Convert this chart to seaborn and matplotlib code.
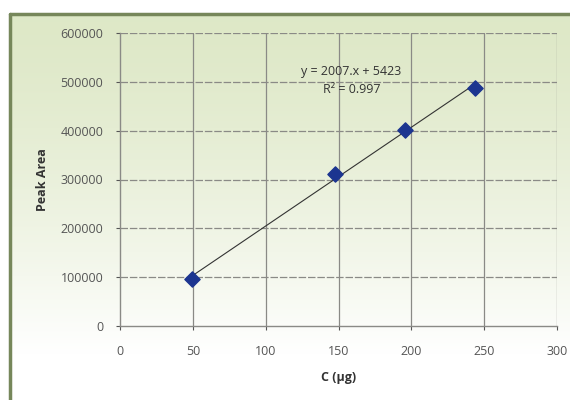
import numpy as np
import pandas as pd
import matplotlib.pyplot as plt
import seaborn as sns
from matplotlib.lines import Line2D

# data
conc = [49.4, 147.5, 195.5, 244.0]
peak_area = [96000, 312000, 401000, 488000]
x_ticks = [0, 50, 100, 150, 200, 250, 300]
y_ticks = [0, 100000, 200000, 300000, 400000, 500000, 600000]
eq_text = "y = 2007.x + 5423"
r2_text = "R² = 0.997"

df = pd.DataFrame({"conc": conc, "area": peak_area})

sns.set_theme(style="white")
plt.rcParams['font.family'] = ['Open Sans', 'DejaVu Sans']

fig = plt.figure(figsize=(5.7, 4.0), dpi=100)

# green gradient background inside the frame
bg = fig.add_axes([0, 0, 1, 1], zorder=-10)
grad = np.linspace(0, 1, 256)
top_col = np.array([0.87, 0.91, 0.78])
t = np.clip(grad / 0.88, 0, 1) ** 1.4
img = top_col * (1 - t)[:, None] + np.ones(3) * t[:, None]
bg.imshow(img.reshape(256, 1, 3), aspect='auto',
          extent=[9.5 / 570, 1, 0, 1 - 14 / 400], origin='upper')
bg.set_xlim(0, 1)
bg.set_ylim(0, 1)
bg.axis('off')
frame_col = '#76875a'
bg.add_line(Line2D([10 / 570, 10 / 570], [0, 1 - 14 / 400], color=frame_col, lw=2.5))
bg.add_line(Line2D([10 / 570, 1], [1 - 14 / 400, 1 - 14 / 400], color=frame_col, lw=2.5))

ax = fig.add_axes([120 / 570, 1 - 326 / 400, 437 / 570, 293 / 400])
ax.patch.set_alpha(0)

sns.regplot(data=df, x="conc", y="area", ax=ax, ci=None,
            marker="D",
            scatter_kws=dict(s=60, color='#1c3590', edgecolor='#1c3590', alpha=1, zorder=3),
            line_kws=dict(color='#333333', lw=0.8, zorder=2))

ax.set_xlim(0, 300)
ax.set_ylim(0, 600000)
ax.set_xticks(x_ticks)
ax.set_yticks(y_ticks)
ax.set_xticklabels([str(v) for v in x_ticks])
ax.set_yticklabels([str(v) for v in y_ticks])

grid_col = '#8a8a86'
for yv in y_ticks[1:]:
    ax.axhline(yv, color=grid_col, lw=0.9, ls=(0, (6, 1.5)), zorder=1)
for xv in x_ticks[1:]:
    ax.axvline(xv, color=grid_col, lw=0.9, zorder=1)

for side in ['top', 'right']:
    ax.spines[side].set_visible(False)
for side in ['left', 'bottom']:
    ax.spines[side].set_color(grid_col)
    ax.spines[side].set_linewidth(1.0)

ax.tick_params(axis='both', colors='#555555', labelsize=9, length=3, width=0.8,
               direction='out', bottom=True, left=True)
ax.tick_params(axis='x', pad=11)
ax.tick_params(axis='y', pad=9)

ax.set_xlabel("C (µg)", fontsize=9, fontweight='bold', color='#333333', labelpad=9)
ax.set_ylabel("Peak Area", fontsize=9, fontweight='bold', color='#333333', labelpad=8)

ax.text(159, 522000, eq_text, fontsize=9, color='#333333', ha='center', va='center')
ax.text(159, 484000, r2_text, fontsize=9, color='#333333', ha='center', va='center')

fig.savefig("out.png", dpi=100)
